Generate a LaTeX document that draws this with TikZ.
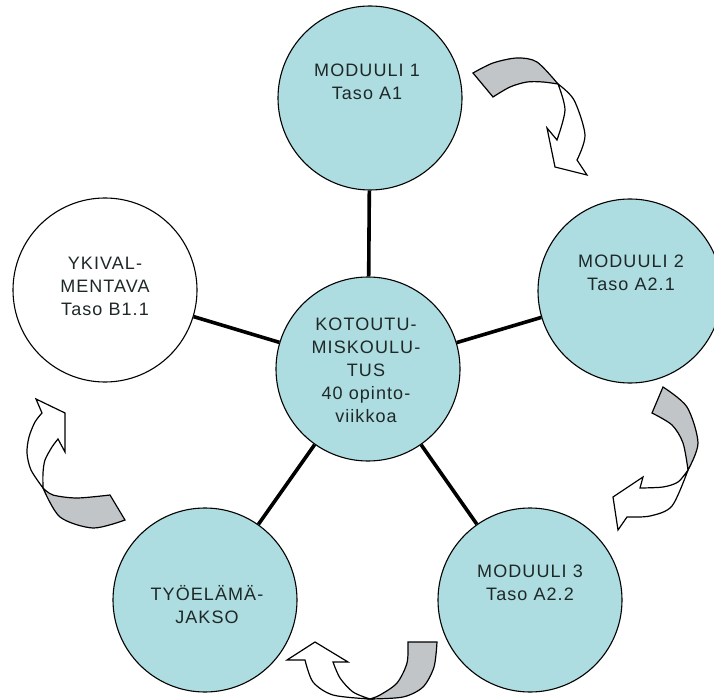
\documentclass[tikz,border=0pt]{standalone}
\usepackage{fontspec}
\setmainfont{Liberation Sans}[LetterSpace=6]
\usepackage{tikz}
\definecolor{modfill}{HTML}{ADDDE0}
\definecolor{bandgrey}{HTML}{C2C5C8}
\definecolor{txtgrey}{HTML}{1F2828}

\begin{document}
\begin{tikzpicture}[x=1pt,y=-1pt,
	moduli/.style={circle,draw,line width=1.1pt,minimum size=184pt,inner sep=0pt,fill=modfill},
	teksti/.style={align=center,text=txtgrey,inner sep=0pt,font=\fontsize{18}{23}\selectfont},
	yhteys/.style={line width=3.6pt},
	kaari/.style={draw,line width=1.2pt,fill=bandgrey},
	nuoli/.style={draw,line width=1.2pt,fill=white}]
\useasboundingbox (0,0) rectangle (714,700);

	\node[moduli] (m1) at (370,98) {};
	\node[moduli] (m2) at (630,291) {};
	\node[moduli] (m3) at (530,600) {};
	\node[moduli] (tyo) at (205,600) {};
	\node[moduli,fill=white] (yki) at (105,290) {};
	\node[moduli] (koto) at (368,369) {};

	\node[teksti] (m1t) at (367,82) {MODUULI 1\\Taso A1};
	\node[teksti] (m2t) at (631,273) {MODUULI 2\\Taso A2.1};
	\node[teksti] (m3t) at (530,583) {MODUULI 3\\Taso A2.2};
	\node[teksti] (tyot) at (207,605) {TYÖELÄMÄ-\\JAKSO};
	\node[teksti] (ykit) at (105,286) {YKIVAL-\\MENTAVA\\Taso B1.1};
	\node[teksti] (kotot) at (366,370) {KOTOUTU-\\MISKOULU-\\TUS\\40 opinto-\\viikkoa};

\draw[yhteys] (koto) -- (m1) (koto) -- (m2) (koto) -- (m3) (koto) -- (tyo) (koto) -- (yki);

	\path[kaari] plot[smooth] coordinates {(473,73) (493,63) (517,58) (537,62) (558,84)} -- plot[smooth] coordinates {(558,84) (543,82) (527,82) (510,87) (493,97)} -- cycle;
	\path[nuoli] plot[smooth] coordinates {(558,84) (565,110) (557,140)} -- (547,128) -- (555,167) -- (587,175) -- (577,160) -- plot[smooth] coordinates {(577,160) (585,135) (574,100) (558,84)} -- cycle;

	\path[kaari] plot[smooth] coordinates {(663,387) (687,407) (698,443) (688,470)} -- plot[smooth] coordinates {(688,470) (683,443) (672,425) (652,413)} -- cycle;
	\path[nuoli] plot[smooth] coordinates {(688,470) (678,482) (663,487) (640,488)} -- (643,477) -- (613,497) -- (618,530) -- (627,517) -- plot[smooth] coordinates {(627,517) (650,516) (672,506) (688,470)} -- cycle;

	\path[kaari] plot[smooth] coordinates {(437,642) (434,667) (423,687) (403,697) (370,699)} -- plot[smooth] coordinates {(370,699) (380,695) (397,683) (407,663) (408,642)} -- cycle;
	\path[nuoli] plot[smooth] coordinates {(370,699) (353,692) (340,678) (333,662)} -- (348,662) -- (315,642) -- (287,660) -- (305,660) -- plot[smooth] coordinates {(305,660) (313,682) (333,695) (370,699)} -- cycle;

	\path[kaari] plot[smooth] coordinates {(125,520) (93,528) (60,517) (43,488)} -- plot[smooth] coordinates {(43,488) (53,495) (77,498) (110,495)} -- cycle;
	\path[nuoli] plot[smooth] coordinates {(43,488) (31,470) (27,453) (29,437) (35,422) (42,413)} -- (36,399) -- (65,413) -- (65,452) -- (58,439) -- plot[smooth] coordinates {(58,439) (52,447) (45,460) (43,473) (43,488)} -- cycle;

\end{tikzpicture}
\end{document}
